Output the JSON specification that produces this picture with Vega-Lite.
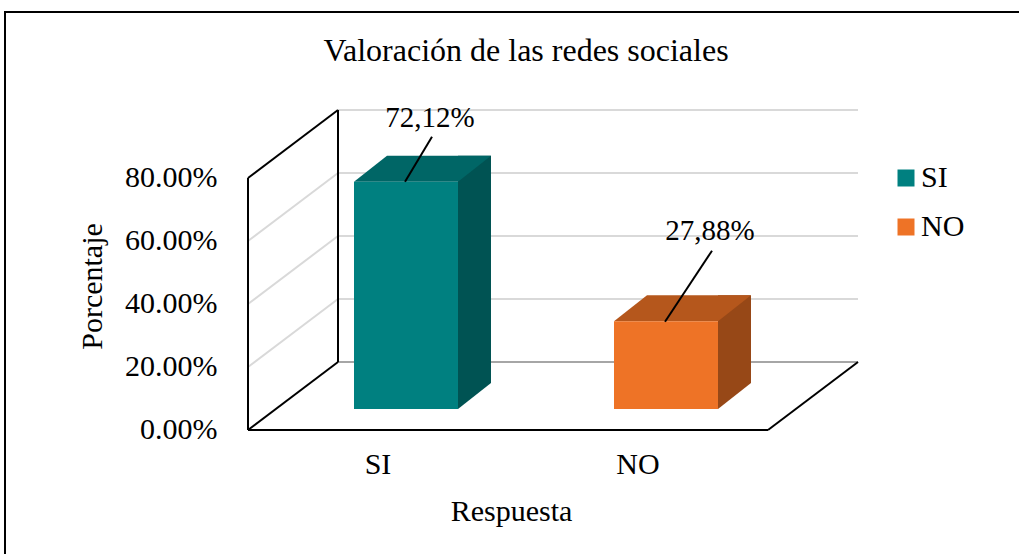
{
  "$schema": "https://vega.github.io/schema/vega-lite/v6.json",
  "autosize": {"type": "none"},
  "padding": {"left": 5, "top": 12, "right": 0, "bottom": 0},
  "width": 1020,
  "height": 548,
  "background": "white",
  "title": {"text": "Valoración de las redes sociales", "font": "Liberation Serif", "fontSize": 32, "fontWeight": "normal", "color": "black", "anchor": "middle", "baseline": "alphabetic", "offset": -81, "dx": 11},
  "datasets": {
    "respuestas": [
      {"Respuesta": "SI", "Porcentaje": 0.7212, "etiqueta": "72,12%"},
      {"Respuesta": "NO", "Porcentaje": 0.2788, "etiqueta": "27,88%"}
    ],
    "niveles": [{"v": 0}, {"v": 0.2}, {"v": 0.4}, {"v": 0.6}, {"v": 0.8}],
    "uno": [{"k": 1}]
  },
  "layer": [
    {
      "data": {"name": "niveles"},
      "mark": {"type": "rule", "strokeWidth": 2, "xOffset": -40, "x2Offset": 220, "yOffset": -68},
      "encoding": {
        "x": {"datum": "SI", "type": "nominal", "title": "Respuesta", "scale": {"domain": ["SI", "NO"], "paddingInner": 0, "paddingOuter": 0.9615, "align": 0.486}},
        "x2": {"datum": "NO"},
        "y": {"field": "v", "type": "quantitative", "title": "Porcentaje", "scale": {"domain": [-0.4127, 1.32698], "nice": false, "zero": false}},
        "stroke": {"condition": {"test": "datum.v === 0", "value": "#a6a6a6"}, "value": "#d9d9d9"}
      }
    },
    {
      "data": {"name": "niveles"},
      "mark": {"type": "rule", "strokeWidth": 2, "xOffset": -130, "x2Offset": -40, "y2Offset": -68},
      "encoding": {
        "x": {"datum": "SI", "type": "nominal", "title": "Respuesta", "scale": {"domain": ["SI", "NO"], "paddingInner": 0, "paddingOuter": 0.9615, "align": 0.486}},
        "x2": {"datum": "SI"},
        "y": {"field": "v", "type": "quantitative", "title": "Porcentaje", "scale": {"domain": [-0.4127, 1.32698], "nice": false, "zero": false}},
        "y2": {"field": "v"},
        "stroke": {"condition": {"test": "datum.v === 0 || datum.v === 0.8", "value": "#000000"}, "value": "#d9d9d9"}
      }
    },
    {
      "data": {"name": "uno"},
      "mark": {"type": "rule", "strokeWidth": 2, "color": "#000000", "xOffset": -130},
      "encoding": {
        "x": {"datum": "SI", "type": "nominal", "title": "Respuesta", "scale": {"domain": ["SI", "NO"], "paddingInner": 0, "paddingOuter": 0.9615, "align": 0.486}},
        "y": {"datum": 0, "type": "quantitative", "title": "Porcentaje", "scale": {"domain": [-0.4127, 1.32698], "nice": false, "zero": false}},
        "y2": {"datum": 0.8}
      }
    },
    {
      "data": {"name": "uno"},
      "mark": {"type": "rule", "strokeWidth": 2, "color": "#000000", "xOffset": -40, "yOffset": -68, "y2Offset": -68},
      "encoding": {
        "x": {"datum": "SI", "type": "nominal", "title": "Respuesta", "scale": {"domain": ["SI", "NO"], "paddingInner": 0, "paddingOuter": 0.9615, "align": 0.486}},
        "y": {"datum": 0, "type": "quantitative", "title": "Porcentaje", "scale": {"domain": [-0.4127, 1.32698], "nice": false, "zero": false}},
        "y2": {"datum": 0.8}
      }
    },
    {
      "data": {"name": "uno"},
      "mark": {"type": "rule", "strokeWidth": 2, "color": "#000000", "xOffset": -130, "x2Offset": 130},
      "encoding": {
        "x": {"datum": "SI", "type": "nominal", "title": "Respuesta", "scale": {"domain": ["SI", "NO"], "paddingInner": 0, "paddingOuter": 0.9615, "align": 0.486}},
        "x2": {"datum": "NO"},
        "y": {"datum": 0, "type": "quantitative", "title": "Porcentaje", "scale": {"domain": [-0.4127, 1.32698], "nice": false, "zero": false}}
      }
    },
    {
      "data": {"name": "uno"},
      "mark": {"type": "rule", "strokeWidth": 2, "color": "#000000", "xOffset": 130, "x2Offset": 220, "y2Offset": -68},
      "encoding": {
        "x": {"datum": "NO", "type": "nominal", "title": "Respuesta", "scale": {"domain": ["SI", "NO"], "paddingInner": 0, "paddingOuter": 0.9615, "align": 0.486}},
        "x2": {"datum": "NO"},
        "y": {"datum": 0, "type": "quantitative", "title": "Porcentaje", "scale": {"domain": [-0.4127, 1.32698], "nice": false, "zero": false}},
        "y2": {"datum": 0}
      }
    },
    {
      "data": {"name": "respuestas"},
      "mark": {"type": "bar", "width": 33, "xOffset": 96.5, "yOffset": -47, "y2Offset": -47},
      "encoding": {
        "x": {"field": "Respuesta", "type": "nominal", "title": "Respuesta", "scale": {"domain": ["SI", "NO"], "paddingInner": 0, "paddingOuter": 0.9615, "align": 0.486}},
        "y": {"field": "Porcentaje", "type": "quantitative", "title": "Porcentaje", "scale": {"domain": [-0.4127, 1.32698], "nice": false, "zero": false}},
        "fill": {"condition": {"test": "datum.Respuesta === 'SI'", "value": "#005353"}, "value": "#974817"}
      }
    },
    {
      "data": {"name": "respuestas"},
      "mark": {"type": "point", "shape": "M0.52,0L0.85,-0.26L0.52,-0.26Z", "size": 40000, "filled": true, "opacity": 1, "strokeWidth": 0, "xOffset": 28, "yOffset": -21},
      "encoding": {
        "x": {"field": "Respuesta", "type": "nominal", "title": "Respuesta", "scale": {"domain": ["SI", "NO"], "paddingInner": 0, "paddingOuter": 0.9615, "align": 0.486}},
        "y": {"datum": 0, "type": "quantitative", "title": "Porcentaje", "scale": {"domain": [-0.4127, 1.32698], "nice": false, "zero": false}},
        "fill": {"condition": {"test": "datum.Respuesta === 'SI'", "value": "#005353"}, "value": "#974817"}
      }
    },
    {
      "data": {"name": "respuestas"},
      "mark": {"type": "point", "shape": "M-0.52,0L0.52,0L0.85,-0.26L-0.19,-0.26Z", "size": 40000, "filled": true, "opacity": 1, "strokeWidth": 0, "xOffset": 28, "yOffset": -21},
      "encoding": {
        "x": {"field": "Respuesta", "type": "nominal", "title": "Respuesta", "scale": {"domain": ["SI", "NO"], "paddingInner": 0, "paddingOuter": 0.9615, "align": 0.486}},
        "y": {"field": "Porcentaje", "type": "quantitative", "title": "Porcentaje", "scale": {"domain": [-0.4127, 1.32698], "nice": false, "zero": false}},
        "fill": {"condition": {"test": "datum.Respuesta === 'SI'", "value": "#006666"}, "value": "#B5571C"}
      }
    },
    {
      "data": {"name": "respuestas"},
      "mark": {"type": "bar", "width": 104, "xOffset": 28, "yOffset": -21, "y2Offset": -21},
      "encoding": {
        "x": {"field": "Respuesta", "type": "nominal", "title": "Respuesta", "scale": {"domain": ["SI", "NO"], "paddingInner": 0, "paddingOuter": 0.9615, "align": 0.486},
          "axis": {"title": "Respuesta", "orient": "bottom", "offset": -130, "domain": false, "ticks": false, "tickSize": 0, "grid": false, "labels": false, "titleFont": "Liberation Serif", "titleFontSize": 30, "titleFontWeight": "normal", "titleColor": "#000000", "titlePadding": 66, "titleX": 506}},
        "y": {"field": "Porcentaje", "type": "quantitative", "title": "Porcentaje", "scale": {"domain": [-0.4127, 1.32698], "nice": false, "zero": false},
          "axis": {"title": "Porcentaje", "values": [0, 0.2, 0.4, 0.6, 0.8], "format": ".2%", "offset": -243, "domain": false, "ticks": false, "tickSize": 0, "grid": false, "labelFont": "Liberation Serif", "labelFontSize": 30, "labelColor": "#000000", "labelPadding": 31, "titleFont": "Liberation Serif", "titleFontSize": 30, "titleFontWeight": "normal", "titleColor": "#000000", "titlePadding": 17}},
        "color": {"field": "Respuesta", "type": "nominal", "scale": {"domain": ["SI", "NO"], "range": ["#008080", "#EE7326"]},
          "legend": {"title": null, "orient": "none", "legendX": 886, "legendY": 151, "symbolType": "square", "symbolSize": 289, "symbolStrokeWidth": 0, "labelFont": "Liberation Serif", "labelFontSize": 30, "labelColor": "#000000", "labelOffset": 0, "rowPadding": 19, "padding": 0}}
      }
    },
    {
      "data": {"name": "respuestas"},
      "mark": {"type": "text", "font": "Liberation Serif", "fontSize": 30, "color": "#000000", "align": "center", "baseline": "alphabetic", "dy": 44},
      "encoding": {
        "x": {"field": "Respuesta", "type": "nominal", "title": "Respuesta", "scale": {"domain": ["SI", "NO"], "paddingInner": 0, "paddingOuter": 0.9615, "align": 0.486}},
        "y": {"datum": 0, "type": "quantitative", "title": "Porcentaje", "scale": {"domain": [-0.4127, 1.32698], "nice": false, "zero": false}},
        "text": {"field": "Respuesta"}
      }
    },
    {
      "data": {"name": "respuestas"},
      "transform": [{"filter": "datum.Respuesta === 'SI'"}],
      "mark": {"type": "rule", "strokeWidth": 2, "color": "#000000", "xOffset": 54, "x2Offset": 27, "yOffset": -66, "y2Offset": -21},
      "encoding": {
        "x": {"field": "Respuesta", "type": "nominal", "title": "Respuesta", "scale": {"domain": ["SI", "NO"], "paddingInner": 0, "paddingOuter": 0.9615, "align": 0.486}},
        "x2": {"field": "Respuesta"},
        "y": {"field": "Porcentaje", "type": "quantitative", "title": "Porcentaje", "scale": {"domain": [-0.4127, 1.32698], "nice": false, "zero": false}},
        "y2": {"field": "Porcentaje"}
      }
    },
    {
      "data": {"name": "respuestas"},
      "transform": [{"filter": "datum.Respuesta === 'NO'"}],
      "mark": {"type": "rule", "strokeWidth": 2, "color": "#000000", "xOffset": 74, "x2Offset": 27, "yOffset": -91.5, "y2Offset": -20.5},
      "encoding": {
        "x": {"field": "Respuesta", "type": "nominal", "title": "Respuesta", "scale": {"domain": ["SI", "NO"], "paddingInner": 0, "paddingOuter": 0.9615, "align": 0.486}},
        "x2": {"field": "Respuesta"},
        "y": {"field": "Porcentaje", "type": "quantitative", "title": "Porcentaje", "scale": {"domain": [-0.4127, 1.32698], "nice": false, "zero": false}},
        "y2": {"field": "Porcentaje"}
      }
    },
    {
      "data": {"name": "respuestas"},
      "transform": [{"filter": "datum.Respuesta === 'SI'"}],
      "mark": {"type": "text", "font": "Liberation Serif", "fontSize": 29, "color": "#000000", "align": "center", "baseline": "alphabetic", "dx": 52, "dy": -76},
      "encoding": {
        "x": {"field": "Respuesta", "type": "nominal", "title": "Respuesta", "scale": {"domain": ["SI", "NO"], "paddingInner": 0, "paddingOuter": 0.9615, "align": 0.486}},
        "y": {"field": "Porcentaje", "type": "quantitative", "title": "Porcentaje", "scale": {"domain": [-0.4127, 1.32698], "nice": false, "zero": false}},
        "text": {"field": "etiqueta"}
      }
    },
    {
      "data": {"name": "respuestas"},
      "transform": [{"filter": "datum.Respuesta === 'NO'"}],
      "mark": {"type": "text", "font": "Liberation Serif", "fontSize": 29, "color": "#000000", "align": "center", "baseline": "alphabetic", "dx": 72, "dy": -102},
      "encoding": {
        "x": {"field": "Respuesta", "type": "nominal", "title": "Respuesta", "scale": {"domain": ["SI", "NO"], "paddingInner": 0, "paddingOuter": 0.9615, "align": 0.486}},
        "y": {"field": "Porcentaje", "type": "quantitative", "title": "Porcentaje", "scale": {"domain": [-0.4127, 1.32698], "nice": false, "zero": false}},
        "text": {"field": "etiqueta"}
      }
    }
  ],
  "config": {
    "view": {"stroke": "#000000", "strokeWidth": 2},
    "font": "Liberation Serif",
    "axis": {"grid": false, "domain": false, "ticks": false}
  }
}
